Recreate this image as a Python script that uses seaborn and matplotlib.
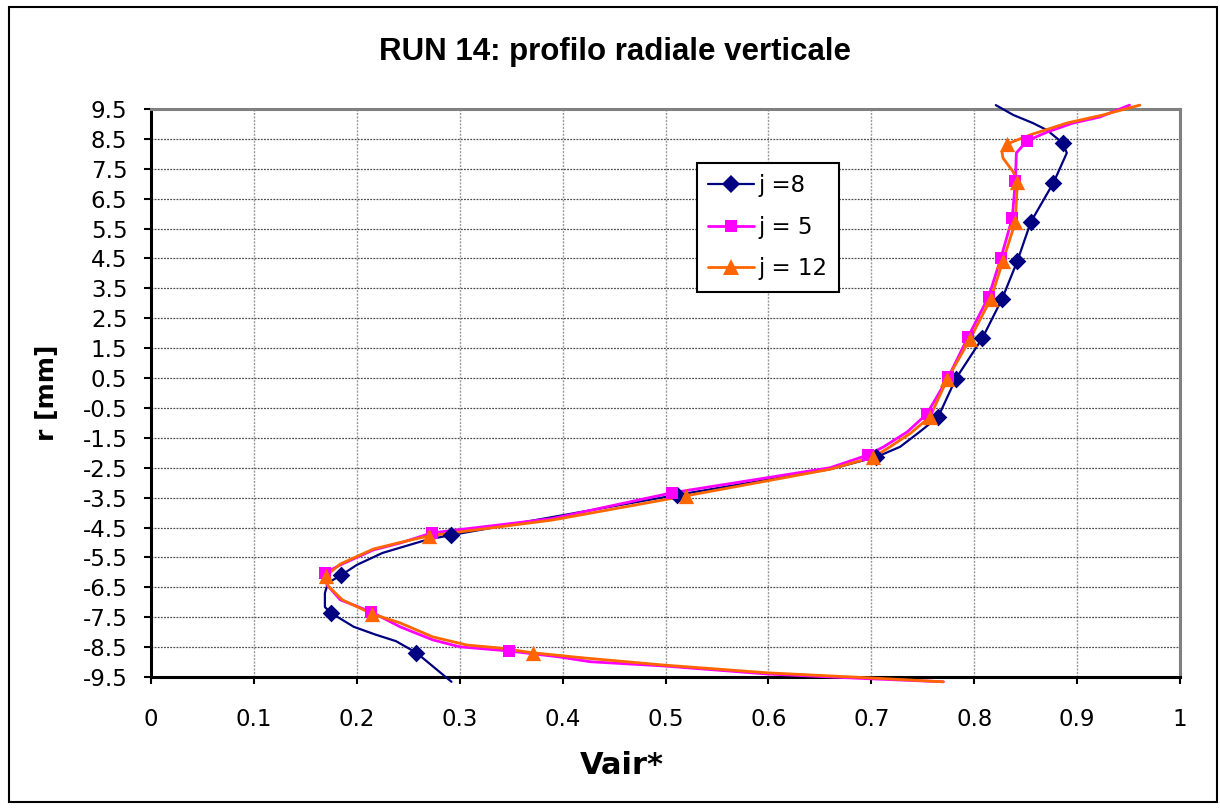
import numpy as np
import pandas as pd
import matplotlib
matplotlib.use("Agg")
import matplotlib.pyplot as plt
from matplotlib.lines import Line2D
from matplotlib.patches import Rectangle
import seaborn as sns

# path vertices (Vair*, r [mm]); *_mark = indices that carry a marker
j8_v = [0.821, 0.838, 0.857, 0.871, 0.886, 0.890, 0.877, 0.855, 0.842, 0.827, 0.808, 0.782,
        0.765, 0.747, 0.728, 0.705, 0.660, 0.511, 0.292, 0.268, 0.225, 0.200, 0.185, 0.172,
        0.169, 0.169, 0.175, 0.197, 0.218, 0.238, 0.258, 0.292]
j8_r = [9.63, 9.30, 9.03, 8.79, 8.36, 8.03, 7.03, 5.72, 4.42, 3.14, 1.84, 0.47,
        -0.80, -1.30, -1.80, -2.14, -2.55, -3.41, -4.75, -4.91, -5.35, -5.75, -6.09, -6.35,
        -6.69, -7.16, -7.36, -7.82, -8.08, -8.30, -8.69, -9.66]
j8_mark = [4, 6, 7, 8, 9, 10, 11, 12, 15, 17, 18, 22, 26, 30]

j5_v = [0.951, 0.922, 0.896, 0.871, 0.851, 0.841, 0.840, 0.837, 0.826, 0.814, 0.794, 0.775,
        0.754, 0.735, 0.712, 0.697, 0.660, 0.506, 0.390, 0.273, 0.242, 0.216, 0.184, 0.169,
        0.171, 0.184, 0.214, 0.242, 0.274, 0.300, 0.348, 0.397, 0.427, 0.498, 0.599, 0.699,
        0.770]
j5_r = [9.63, 9.23, 9.03, 8.73, 8.43, 8.03, 7.09, 5.85, 4.52, 3.22, 1.87, 0.54,
        -0.70, -1.30, -1.80, -2.07, -2.50, -3.34, -4.20, -4.68, -5.02, -5.25, -5.75, -6.02,
        -6.42, -6.92, -7.32, -7.82, -8.26, -8.49, -8.63, -8.83, -8.99, -9.13, -9.40, -9.56,
        -9.66]
j5_mark = [4, 6, 7, 8, 9, 10, 11, 12, 15, 17, 19, 23, 26, 30]

j12_v = [0.961, 0.925, 0.890, 0.854, 0.832, 0.827, 0.828, 0.838, 0.842, 0.840, 0.828, 0.816,
         0.796, 0.774, 0.757, 0.738, 0.716, 0.702, 0.660, 0.520, 0.390, 0.270, 0.242, 0.216,
         0.184, 0.170, 0.172, 0.186, 0.215, 0.242, 0.274, 0.307, 0.339, 0.371, 0.420, 0.498,
         0.599, 0.699, 0.770]
j12_r = [9.63, 9.30, 9.03, 8.63, 8.33, 8.06, 7.86, 7.39, 7.06, 5.72, 4.42, 3.14,
         1.81, 0.47, -0.80, -1.35, -1.85, -2.14, -2.55, -3.44, -4.25, -4.78, -5.00, -5.22,
         -5.72, -6.12, -6.45, -6.92, -7.39, -7.69, -8.16, -8.43, -8.53, -8.69, -8.86, -9.10,
         -9.36, -9.53, -9.66]
j12_mark = [4, 8, 9, 10, 11, 12, 13, 14, 17, 19, 21, 25, 28, 33]

series = [
    ("j =8", j8_v, j8_r, j8_mark, "#000080", "D", 9, 1.6),
    ("j = 5", j5_v, j5_r, j5_mark, "#FF00FF", "s", 9, 2.0),
    ("j = 12", j12_v, j12_r, j12_mark, "#FF6600", "^", 11, 2.0),
]

x_ticks = np.round(np.arange(0, 1.01, 0.1), 1)
y_ticks = np.arange(-9.5, 9.6, 1.0)

sns.set_style("white")
plt.rcParams["font.family"] = ["DejaVu Sans"]
plt.rcParams["axes.unicode_minus"] = False
for key in ["text.color", "axes.labelcolor", "xtick.color", "ytick.color"]:
    plt.rcParams[key] = "black"

fig = plt.figure(figsize=(12.2, 8.08), dpi=100)
ax = fig.add_axes([151 / 1220, 1 - 677 / 808, 1029 / 1220, 568 / 808])

handles = []
for name, v, r, mark, col, mk, ms, lw in series:
    df = pd.DataFrame({"v": v, "r": r})
    sns.lineplot(data=df, x="v", y="r", sort=False, estimator=None, color=col,
                 linewidth=lw, ax=ax, clip_on=False, zorder=3)
    pts = df.iloc[mark]
    sns.scatterplot(data=pts, x="v", y="r", marker=mk, color=col, s=ms ** 2,
                    edgecolor=col, linewidth=0, ax=ax, zorder=4, clip_on=False)
    handles.append(Line2D([], [], color=col, lw=lw, marker=mk, markersize=ms,
                          markeredgewidth=0, label=name))

ax.set_xlim(0, 1)
ax.set_ylim(-9.5, 9.5)
ax.set_xticks(x_ticks)
ax.set_xticklabels([f"{t:g}" for t in x_ticks])
ax.set_yticks(y_ticks)
ax.set_yticklabels([f"{t:.1f}" for t in y_ticks])
ax.tick_params(axis="both", labelsize=16.5, direction="out", length=5, width=1.5,
               color="black", labelcolor="black", bottom=True, left=True)
ax.tick_params(axis="y", pad=12)
ax.tick_params(axis="x", pad=17)

ax.grid(True, axis="y", color="#505050", linestyle=(0, (1.5, 1)), linewidth=0.9)
ax.grid(True, axis="x", color="#9a9a9a", linestyle=(0, (1.5, 1)), linewidth=1.0)
ax.set_axisbelow(True)
for side in ["top", "right"]:
    ax.spines[side].set_color("#808080")
    ax.spines[side].set_linewidth(2.2)
for side in ["left", "bottom"]:
    ax.spines[side].set_color("black")
    ax.spines[side].set_linewidth(2.2)

ax.set_xlabel("Vair*", fontsize=22, fontweight="bold", color="black")
ax.set_ylabel("r [mm]", fontsize=18, fontweight="bold", color="black")
ax.xaxis.set_label_coords((622 - 151) / 1029, (677 - 765) / 568)
ax.yaxis.set_label_coords((47 - 151) / 1029, 0.5)
ax.xaxis.label.set_va("center")
ax.yaxis.label.set_va("center")

leg = ax.legend(handles=handles, loc="upper left", bbox_to_anchor=((697 - 151) / 1029, (677 - 163) / 568),
                borderaxespad=0, fontsize=16.5, frameon=True, fancybox=False, framealpha=1,
                edgecolor="black", handlelength=2.0, handletextpad=0.2, labelspacing=0.8,
                borderpad=0.5)
leg.get_frame().set_linewidth(1.5)
for t in leg.get_texts():
    t.set_color("black")

fig.text(615 / 1220, 1 - 52 / 808, "RUN 14: profilo radiale verticale", ha="center",
         va="center", fontsize=22.5, fontweight="bold", color="black",
         family=["Liberation Sans", "DejaVu Sans"])

fig.patches.append(Rectangle((9 / 1220, 6 / 808), 1208 / 1220, 795 / 808, transform=fig.transFigure,
                             fill=False, edgecolor="black", linewidth=1.5))

fig.savefig("out.png", dpi=100)
